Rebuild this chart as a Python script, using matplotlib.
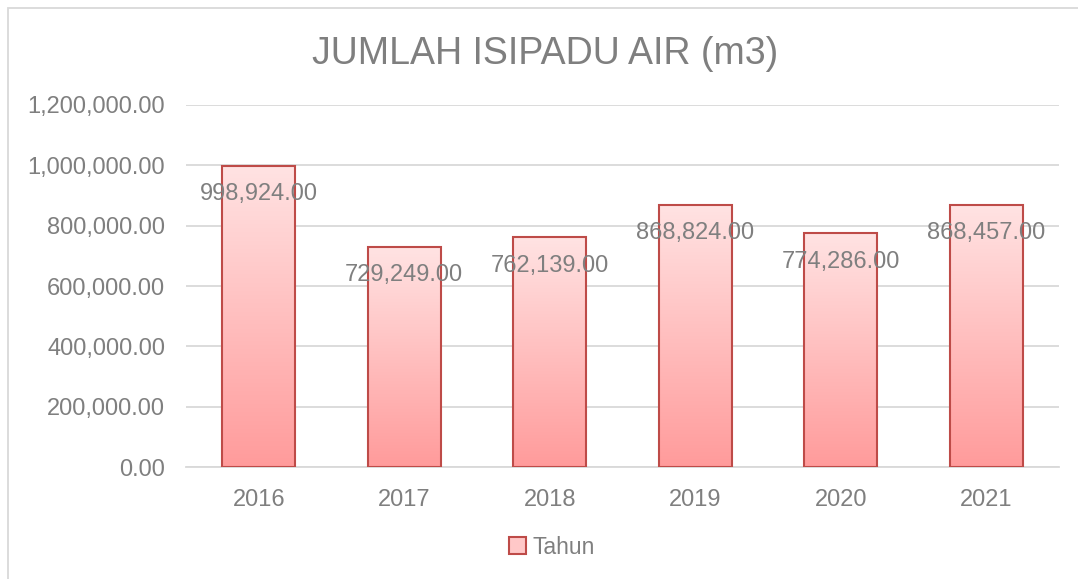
import numpy as np
import matplotlib
matplotlib.use("Agg")
import matplotlib.pyplot as plt
from matplotlib.colors import LinearSegmentedColormap
from matplotlib.patches import Patch, Rectangle

years = ["2016", "2017", "2018", "2019", "2020", "2021"]
volumes = [998924.00, 729249.00, 762139.00, 868824.00, 774286.00, 868457.00]
yticks = [0, 200000, 400000, 600000, 800000, 1000000, 1200000]
title = "JUMLAH ISIPADU AIR (m3)"
series_name = "Tahun"

TXT = "#7f7f7f"
GRID = "#d9d9d9"
EDGE = "#be4b48"
grad = LinearSegmentedColormap.from_list("bar", ["#ff9b9b", "#ffe3e3"])

plt.rcParams["font.family"] = ["Liberation Sans", "DejaVu Sans"]

fig = plt.figure(figsize=(10.78, 5.79), dpi=100)
ax = fig.add_axes([186 / 1078, 1 - 467 / 579, 873 / 1078, 362 / 579])

x = np.arange(len(years))
width = 0.5
ramp = np.linspace(0, 1, 256).reshape(-1, 1)
for xi, v in zip(x, volumes):
    ax.imshow(ramp, cmap=grad, origin="lower", aspect="auto",
              extent=[xi - width / 2, xi + width / 2, 0, v], zorder=2)
bars = ax.bar(x, volumes, width=width, facecolor="none", edgecolor=EDGE,
              linewidth=1.5, zorder=3)

for xi, v in zip(x, volumes):
    ax.annotate(f"{v:,.2f}", (xi, v), xytext=(0, -20.5), textcoords="offset points",
                ha="center", va="center", fontsize=17, color=TXT, zorder=4)

ax.set_xlim(-0.5, len(years) - 0.5)
ax.set_ylim(0, 1200000)
ax.set_xticks(x)
ax.set_xticklabels(years)
ax.set_yticks(yticks)
ax.set_yticklabels([f"{t:,.2f}" for t in yticks])
ax.tick_params(axis="both", length=0, labelsize=17, colors=TXT)
ax.tick_params(axis="y", pad=15)
ax.tick_params(axis="x", pad=16)
ax.grid(axis="y", color=GRID, linewidth=1.3, zorder=0)
ax.set_axisbelow(True)
for s in ["top", "right", "left"]:
    ax.spines[s].set_visible(False)
ax.spines["bottom"].set_color(GRID)
ax.spines["bottom"].set_linewidth(1.3)

fig.text(545 / 1078, 1 - 54 / 579, title, ha="center", va="center",
         fontsize=27, color=TXT)

handle = Patch(facecolor="#ffc8c8", edgecolor=EDGE, linewidth=1.5)
fig.legend([handle], [series_name], loc="center", bbox_to_anchor=(552 / 1078, 1 - 547 / 579),
           frameon=False, fontsize=16.5, labelcolor=TXT, handlelength=0.75,
           handleheight=0.75, handletextpad=0.3)

# chart area border (only left/top edges visible in the crop)
fig.add_artist(Rectangle((8 / 1078, -0.1), 1.2, 1 - 8 / 579 + 0.1, transform=fig.transFigure,
                         fill=False, edgecolor=GRID, linewidth=1.3))

fig.savefig("out.png", dpi=100)
